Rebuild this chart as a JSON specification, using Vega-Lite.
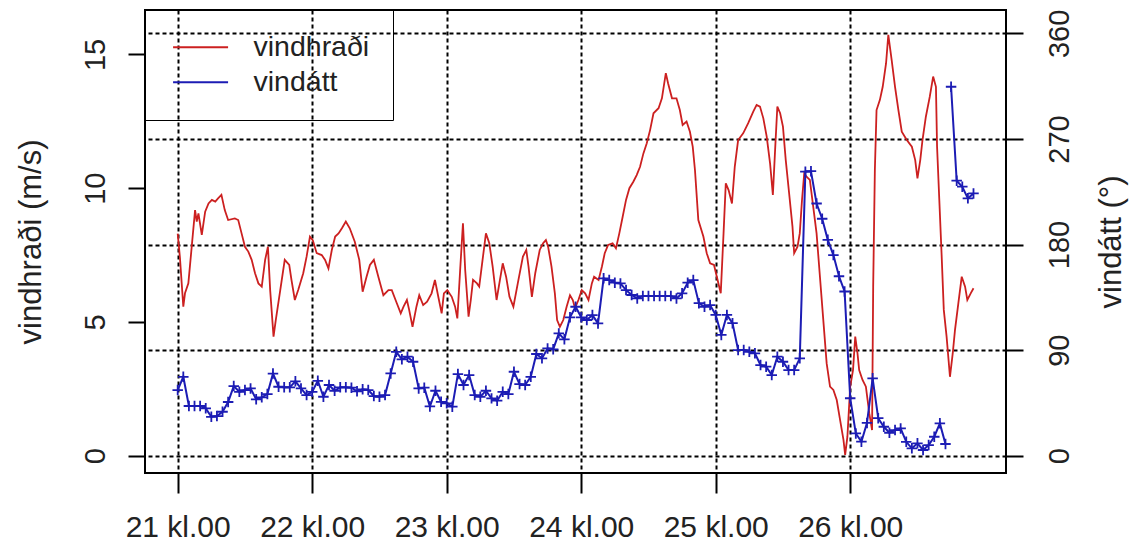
{
  "$schema": "https://vega.github.io/schema/vega-lite/v6.json",
  "width": 861,
  "height": 463,
  "autosize": {"type": "none"},
  "padding": {"left": 145, "top": 10, "right": 136, "bottom": 79},
  "background": "white",
  "config": {
    "view": {"stroke": "black", "strokeWidth": 2},
    "font": "Liberation Sans"
  },
  "datasets": {
    "vindhradi": [
      {"klst": 0, "vindhradi": 8.3}, {"klst": 0.4, "vindhradi": 7.4}, {"klst": 1.0, "vindhradi": 5.57}, {"klst": 1.3, "vindhradi": 6.07},
      {"klst": 1.9, "vindhradi": 6.44}, {"klst": 2.5, "vindhradi": 7.81}, {"klst": 3.1, "vindhradi": 9.18}, {"klst": 3.4, "vindhradi": 8.75},
      {"klst": 3.7, "vindhradi": 9.06}, {"klst": 4.3, "vindhradi": 8.25}, {"klst": 4.9, "vindhradi": 9.12}, {"klst": 5.5, "vindhradi": 9.43},
      {"klst": 6.1, "vindhradi": 9.56}, {"klst": 6.7, "vindhradi": 9.5}, {"klst": 7.2, "vindhradi": 9.62}, {"klst": 7.8, "vindhradi": 9.75},
      {"klst": 8.4, "vindhradi": 9.18}, {"klst": 9.0, "vindhradi": 8.81}, {"klst": 10.2, "vindhradi": 8.87}, {"klst": 10.8, "vindhradi": 8.81},
      {"klst": 11.4, "vindhradi": 8.31}, {"klst": 12.0, "vindhradi": 7.81}, {"klst": 12.6, "vindhradi": 7.63}, {"klst": 13.2, "vindhradi": 7.32},
      {"klst": 13.8, "vindhradi": 6.82}, {"klst": 14.4, "vindhradi": 6.44}, {"klst": 15.0, "vindhradi": 6.32}, {"klst": 15.6, "vindhradi": 7.32},
      {"klst": 16.1, "vindhradi": 7.81}, {"klst": 16.5, "vindhradi": 6.19}, {"klst": 17.1, "vindhradi": 4.45}, {"klst": 17.5, "vindhradi": 5.07},
      {"klst": 18.3, "vindhradi": 6.19}, {"klst": 19.1, "vindhradi": 7.32}, {"klst": 19.9, "vindhradi": 7.13}, {"klst": 20.3, "vindhradi": 6.57},
      {"klst": 20.9, "vindhradi": 5.82}, {"klst": 21.5, "vindhradi": 6.19}, {"klst": 22.4, "vindhradi": 6.82}, {"klst": 23.0, "vindhradi": 7.44},
      {"klst": 23.6, "vindhradi": 8.19}, {"klst": 24.1, "vindhradi": 8.06}, {"klst": 24.8, "vindhradi": 7.57}, {"klst": 25.7, "vindhradi": 7.5},
      {"klst": 26.3, "vindhradi": 7.32}, {"klst": 26.9, "vindhradi": 7.0}, {"klst": 27.5, "vindhradi": 7.69}, {"klst": 28.1, "vindhradi": 8.19},
      {"klst": 28.7, "vindhradi": 8.31}, {"klst": 29.3, "vindhradi": 8.5}, {"klst": 30.0, "vindhradi": 8.75}, {"klst": 30.7, "vindhradi": 8.5},
      {"klst": 31.6, "vindhradi": 8.0}, {"klst": 32.4, "vindhradi": 7.32}, {"klst": 33.0, "vindhradi": 6.13}, {"klst": 33.7, "vindhradi": 6.69},
      {"klst": 34.3, "vindhradi": 7.13}, {"klst": 35.0, "vindhradi": 7.32}, {"klst": 35.8, "vindhradi": 6.69}, {"klst": 36.7, "vindhradi": 6.0},
      {"klst": 37.6, "vindhradi": 6.19}, {"klst": 38.2, "vindhradi": 6.19}, {"klst": 39.1, "vindhradi": 5.7}, {"klst": 39.8, "vindhradi": 5.32},
      {"klst": 40.3, "vindhradi": 5.57}, {"klst": 40.9, "vindhradi": 5.82}, {"klst": 41.3, "vindhradi": 5.45}, {"klst": 41.9, "vindhradi": 4.82},
      {"klst": 42.6, "vindhradi": 5.57}, {"klst": 43.1, "vindhradi": 6.0}, {"klst": 43.8, "vindhradi": 5.63}, {"klst": 44.5, "vindhradi": 5.76},
      {"klst": 45.3, "vindhradi": 6.07}, {"klst": 45.9, "vindhradi": 6.57}, {"klst": 46.5, "vindhradi": 5.94}, {"klst": 47.1, "vindhradi": 5.32},
      {"klst": 47.5, "vindhradi": 6.07}, {"klst": 48.1, "vindhradi": 6.19}, {"klst": 48.9, "vindhradi": 5.94}, {"klst": 49.5, "vindhradi": 5.57},
      {"klst": 49.9, "vindhradi": 5.13}, {"klst": 50.4, "vindhradi": 6.94}, {"klst": 50.9, "vindhradi": 8.69}, {"klst": 51.3, "vindhradi": 6.94},
      {"klst": 51.9, "vindhradi": 5.2}, {"klst": 52.3, "vindhradi": 5.82}, {"klst": 52.7, "vindhradi": 6.57}, {"klst": 53.4, "vindhradi": 6.44},
      {"klst": 53.8, "vindhradi": 6.32}, {"klst": 54.4, "vindhradi": 7.32}, {"klst": 55.0, "vindhradi": 8.31}, {"klst": 55.6, "vindhradi": 7.94},
      {"klst": 56.2, "vindhradi": 7.07}, {"klst": 56.9, "vindhradi": 5.82}, {"klst": 57.5, "vindhradi": 6.57}, {"klst": 58.0, "vindhradi": 7.19},
      {"klst": 58.6, "vindhradi": 6.69}, {"klst": 59.2, "vindhradi": 5.94}, {"klst": 59.9, "vindhradi": 5.57}, {"klst": 60.8, "vindhradi": 6.57},
      {"klst": 61.6, "vindhradi": 7.44}, {"klst": 62.2, "vindhradi": 7.69}, {"klst": 62.6, "vindhradi": 7.07}, {"klst": 63.2, "vindhradi": 5.94},
      {"klst": 63.8, "vindhradi": 6.82}, {"klst": 64.6, "vindhradi": 7.69}, {"klst": 65.2, "vindhradi": 7.94}, {"klst": 65.7, "vindhradi": 8.06},
      {"klst": 66.1, "vindhradi": 7.81}, {"klst": 66.7, "vindhradi": 7.07}, {"klst": 67.3, "vindhradi": 6.07}, {"klst": 67.7, "vindhradi": 5.07},
      {"klst": 68.2, "vindhradi": 4.82}, {"klst": 68.8, "vindhradi": 5.07}, {"klst": 69.4, "vindhradi": 5.57}, {"klst": 70.0, "vindhradi": 6.0},
      {"klst": 70.5, "vindhradi": 5.82}, {"klst": 70.9, "vindhradi": 5.51}, {"klst": 71.5, "vindhradi": 5.82}, {"klst": 72.1, "vindhradi": 6.19},
      {"klst": 72.7, "vindhradi": 6.07}, {"klst": 73.3, "vindhradi": 5.82}, {"klst": 73.9, "vindhradi": 6.44}, {"klst": 74.3, "vindhradi": 6.69},
      {"klst": 75.1, "vindhradi": 6.57}, {"klst": 75.7, "vindhradi": 7.07}, {"klst": 76.2, "vindhradi": 7.57}, {"klst": 76.8, "vindhradi": 7.88},
      {"klst": 77.6, "vindhradi": 7.94}, {"klst": 78.2, "vindhradi": 7.75}, {"klst": 78.8, "vindhradi": 8.31}, {"klst": 79.4, "vindhradi": 8.93},
      {"klst": 80.0, "vindhradi": 9.56}, {"klst": 80.6, "vindhradi": 10.0}, {"klst": 81.3, "vindhradi": 10.24}, {"klst": 81.9, "vindhradi": 10.49},
      {"klst": 82.5, "vindhradi": 10.8}, {"klst": 83.1, "vindhradi": 11.3}, {"klst": 83.7, "vindhradi": 11.68}, {"klst": 84.3, "vindhradi": 12.18},
      {"klst": 84.9, "vindhradi": 12.8}, {"klst": 85.8, "vindhradi": 12.99}, {"klst": 86.4, "vindhradi": 13.36}, {"klst": 87.1, "vindhradi": 14.3},
      {"klst": 87.5, "vindhradi": 13.92}, {"klst": 88.2, "vindhradi": 13.36}, {"klst": 89.0, "vindhradi": 13.36}, {"klst": 89.6, "vindhradi": 12.92},
      {"klst": 90.1, "vindhradi": 12.36}, {"klst": 90.8, "vindhradi": 12.49}, {"klst": 91.4, "vindhradi": 12.11}, {"klst": 91.9, "vindhradi": 11.55},
      {"klst": 92.3, "vindhradi": 10.68}, {"klst": 92.9, "vindhradi": 8.81}, {"klst": 93.8, "vindhradi": 8.19}, {"klst": 94.4, "vindhradi": 7.57},
      {"klst": 95.0, "vindhradi": 7.19}, {"klst": 95.7, "vindhradi": 7.13}, {"klst": 96.2, "vindhradi": 6.69}, {"klst": 96.9, "vindhradi": 6.07},
      {"klst": 97.4, "vindhradi": 8.31}, {"klst": 97.8, "vindhradi": 10.18}, {"klst": 98.3, "vindhradi": 9.93}, {"klst": 98.9, "vindhradi": 9.43},
      {"klst": 99.4, "vindhradi": 10.8}, {"klst": 100.0, "vindhradi": 11.8}, {"klst": 100.9, "vindhradi": 12.05}, {"klst": 101.8, "vindhradi": 12.43},
      {"klst": 102.7, "vindhradi": 12.86}, {"klst": 103.3, "vindhradi": 13.11}, {"klst": 103.9, "vindhradi": 13.05}, {"klst": 104.5, "vindhradi": 12.61},
      {"klst": 105.1, "vindhradi": 11.93}, {"klst": 105.7, "vindhradi": 10.93}, {"klst": 106.2, "vindhradi": 9.75}, {"klst": 106.6, "vindhradi": 11.43},
      {"klst": 107.0, "vindhradi": 13.05}, {"klst": 107.5, "vindhradi": 12.8}, {"klst": 108.0, "vindhradi": 12.3}, {"klst": 108.5, "vindhradi": 11.05},
      {"klst": 109.1, "vindhradi": 9.81}, {"klst": 109.7, "vindhradi": 8.56}, {"klst": 110.0, "vindhradi": 7.57}, {"klst": 110.6, "vindhradi": 7.81},
      {"klst": 111.0, "vindhradi": 8.31}, {"klst": 111.4, "vindhradi": 9.56}, {"klst": 111.8, "vindhradi": 10.56}, {"klst": 112.2, "vindhradi": 10.43},
      {"klst": 112.8, "vindhradi": 10.31}, {"klst": 113.4, "vindhradi": 9.31}, {"klst": 114.0, "vindhradi": 8.31}, {"klst": 114.6, "vindhradi": 6.69},
      {"klst": 115.2, "vindhradi": 5.07}, {"klst": 115.8, "vindhradi": 3.45}, {"klst": 116.4, "vindhradi": 2.58}, {"klst": 117.0, "vindhradi": 2.46},
      {"klst": 117.6, "vindhradi": 2.08}, {"klst": 118.2, "vindhradi": 1.33}, {"klst": 118.8, "vindhradi": 0.59}, {"klst": 119.1, "vindhradi": 0.03},
      {"klst": 119.5, "vindhradi": 0.71}, {"klst": 120.0, "vindhradi": 2.58}, {"klst": 120.5, "vindhradi": 3.2}, {"klst": 120.9, "vindhradi": 4.45},
      {"klst": 121.3, "vindhradi": 3.83}, {"klst": 121.6, "vindhradi": 3.2}, {"klst": 122.2, "vindhradi": 2.83}, {"klst": 122.8, "vindhradi": 2.58},
      {"klst": 123.4, "vindhradi": 1.59}, {"klst": 123.9, "vindhradi": 0.96}, {"klst": 124.1, "vindhradi": 6.32}, {"klst": 124.4, "vindhradi": 10.68},
      {"klst": 124.7, "vindhradi": 12.92}, {"klst": 125.3, "vindhradi": 13.3}, {"klst": 125.8, "vindhradi": 13.79}, {"klst": 126.4, "vindhradi": 14.67},
      {"klst": 126.8, "vindhradi": 15.73}, {"klst": 127.4, "vindhradi": 14.79}, {"klst": 128.0, "vindhradi": 13.79}, {"klst": 128.6, "vindhradi": 12.92},
      {"klst": 129.2, "vindhradi": 12.11}, {"klst": 130.1, "vindhradi": 11.8}, {"klst": 131.0, "vindhradi": 11.55}, {"klst": 131.6, "vindhradi": 11.05},
      {"klst": 132.0, "vindhradi": 10.37}, {"klst": 132.5, "vindhradi": 11.05}, {"klst": 132.9, "vindhradi": 11.8}, {"klst": 133.5, "vindhradi": 12.67},
      {"klst": 134.2, "vindhradi": 13.42}, {"klst": 134.8, "vindhradi": 14.17}, {"klst": 135.3, "vindhradi": 13.79}, {"klst": 135.5, "vindhradi": 11.55},
      {"klst": 135.9, "vindhradi": 9.56}, {"klst": 136.3, "vindhradi": 7.57}, {"klst": 136.7, "vindhradi": 5.45}, {"klst": 137.2, "vindhradi": 4.45},
      {"klst": 137.8, "vindhradi": 2.95}, {"klst": 138.3, "vindhradi": 3.83}, {"klst": 138.7, "vindhradi": 4.7}, {"klst": 139.3, "vindhradi": 5.7},
      {"klst": 139.9, "vindhradi": 6.69}, {"klst": 140.5, "vindhradi": 6.32}, {"klst": 140.9, "vindhradi": 5.82}, {"klst": 141.5, "vindhradi": 6.07},
      {"klst": 142.0, "vindhradi": 6.26}
    ],
    "vindatt": [
      {"klst": 0, "vindatt": 56.0, "hluti": "a"}, {"klst": 1, "vindatt": 67.3, "hluti": "a"}, {"klst": 2, "vindatt": 42.4, "hluti": "a"}, {"klst": 3, "vindatt": 42.4, "hluti": "a"},
      {"klst": 4, "vindatt": 42.4, "hluti": "a"}, {"klst": 5, "vindatt": 40.4, "hluti": "a"}, {"klst": 6, "vindatt": 33.2, "hluti": "a"}, {"klst": 7, "vindatt": 33.8, "hluti": "a"},
      {"klst": 8, "vindatt": 37.5, "hluti": "a"}, {"klst": 9, "vindatt": 45.8, "hluti": "a"}, {"klst": 10, "vindatt": 59.4, "hluti": "a"}, {"klst": 11, "vindatt": 54.5, "hluti": "a"},
      {"klst": 12, "vindatt": 56.0, "hluti": "a"}, {"klst": 13, "vindatt": 57.4, "hluti": "a"}, {"klst": 14, "vindatt": 48.1, "hluti": "a"}, {"klst": 15, "vindatt": 49.8, "hluti": "a"},
      {"klst": 16, "vindatt": 52.6, "hluti": "a"}, {"klst": 17, "vindatt": 70.0, "hluti": "a"}, {"klst": 18, "vindatt": 58.8, "hluti": "a"}, {"klst": 19, "vindatt": 58.3, "hluti": "a"},
      {"klst": 20, "vindatt": 58.3, "hluti": "a"}, {"klst": 21, "vindatt": 63.4, "hluti": "a"}, {"klst": 22, "vindatt": 57.4, "hluti": "a"}, {"klst": 23, "vindatt": 51.7, "hluti": "a"},
      {"klst": 24, "vindatt": 54.5, "hluti": "a"}, {"klst": 25, "vindatt": 63.9, "hluti": "a"}, {"klst": 26, "vindatt": 50.3, "hluti": "a"}, {"klst": 27, "vindatt": 60.3, "hluti": "a"},
      {"klst": 28, "vindatt": 55.4, "hluti": "a"}, {"klst": 29, "vindatt": 58.3, "hluti": "a"}, {"klst": 30, "vindatt": 58.3, "hluti": "a"}, {"klst": 31, "vindatt": 58.0, "hluti": "a"},
      {"klst": 32, "vindatt": 54.9, "hluti": "a"}, {"klst": 33, "vindatt": 56.6, "hluti": "a"}, {"klst": 34, "vindatt": 56.0, "hluti": "a"}, {"klst": 35, "vindatt": 50.9, "hluti": "a"},
      {"klst": 36, "vindatt": 50.3, "hluti": "a"}, {"klst": 37, "vindatt": 51.7, "hluti": "a"}, {"klst": 38, "vindatt": 70.2, "hluti": "a"}, {"klst": 39, "vindatt": 88.6, "hluti": "a"},
      {"klst": 40, "vindatt": 82.2, "hluti": "a"}, {"klst": 41, "vindatt": 84.4, "hluti": "a"}, {"klst": 42, "vindatt": 80.1, "hluti": "a"}, {"klst": 43, "vindatt": 57.4, "hluti": "a"},
      {"klst": 44, "vindatt": 58.0, "hluti": "a"}, {"klst": 45, "vindatt": 42.0, "hluti": "a"}, {"klst": 46, "vindatt": 55.4, "hluti": "a"}, {"klst": 47, "vindatt": 46.0, "hluti": "a"},
      {"klst": 48, "vindatt": 44.7, "hluti": "a"}, {"klst": 49, "vindatt": 41.8, "hluti": "a"}, {"klst": 50, "vindatt": 69.6, "hluti": "a"}, {"klst": 51, "vindatt": 60.3, "hluti": "a"},
      {"klst": 52, "vindatt": 68.8, "hluti": "a"}, {"klst": 53, "vindatt": 51.7, "hluti": "a"}, {"klst": 54, "vindatt": 50.3, "hluti": "a"}, {"klst": 55, "vindatt": 55.4, "hluti": "a"},
      {"klst": 56, "vindatt": 48.9, "hluti": "a"}, {"klst": 57, "vindatt": 46.9, "hluti": "a"}, {"klst": 58, "vindatt": 54.5, "hluti": "a"}, {"klst": 59, "vindatt": 52.6, "hluti": "a"},
      {"klst": 60, "vindatt": 71.6, "hluti": "a"}, {"klst": 61, "vindatt": 61.1, "hluti": "a"}, {"klst": 62, "vindatt": 60.3, "hluti": "a"}, {"klst": 63, "vindatt": 67.3, "hluti": "a"},
      {"klst": 64, "vindatt": 86.7, "hluti": "a"}, {"klst": 65, "vindatt": 83.0, "hluti": "a"}, {"klst": 66, "vindatt": 91.5, "hluti": "a"}, {"klst": 67, "vindatt": 90.7, "hluti": "a"},
      {"klst": 68, "vindatt": 104.3, "hluti": "a"}, {"klst": 69, "vindatt": 99.2, "hluti": "a"}, {"klst": 70, "vindatt": 118.0, "hluti": "a"}, {"klst": 71, "vindatt": 127.0, "hluti": "a"},
      {"klst": 72, "vindatt": 118.0, "hluti": "a"}, {"klst": 73, "vindatt": 115.7, "hluti": "a"}, {"klst": 74, "vindatt": 119.9, "hluti": "a"}, {"klst": 75, "vindatt": 112.8, "hluti": "a"},
      {"klst": 76, "vindatt": 151.2, "hluti": "a"}, {"klst": 77, "vindatt": 149.7, "hluti": "a"}, {"klst": 78, "vindatt": 147.5, "hluti": "a"}, {"klst": 79, "vindatt": 146.9, "hluti": "a"},
      {"klst": 80, "vindatt": 141.2, "hluti": "a"}, {"klst": 81, "vindatt": 137.0, "hluti": "a"}, {"klst": 82, "vindatt": 134.1, "hluti": "a"}, {"klst": 83, "vindatt": 136.1, "hluti": "a"},
      {"klst": 84, "vindatt": 136.1, "hluti": "a"}, {"klst": 85, "vindatt": 136.1, "hluti": "a"}, {"klst": 86, "vindatt": 136.1, "hluti": "a"}, {"klst": 87, "vindatt": 136.1, "hluti": "a"},
      {"klst": 88, "vindatt": 136.1, "hluti": "a"}, {"klst": 89, "vindatt": 134.1, "hluti": "a"}, {"klst": 90, "vindatt": 138.4, "hluti": "a"}, {"klst": 91, "vindatt": 147.5, "hluti": "a"},
      {"klst": 92, "vindatt": 149.7, "hluti": "a"}, {"klst": 93, "vindatt": 130.0, "hluti": "a"}, {"klst": 94, "vindatt": 127.0, "hluti": "a"}, {"klst": 95, "vindatt": 128.4, "hluti": "a"},
      {"klst": 96, "vindatt": 120.0, "hluti": "a"}, {"klst": 97, "vindatt": 103.0, "hluti": "a"}, {"klst": 98, "vindatt": 120.0, "hluti": "a"}, {"klst": 99, "vindatt": 113.0, "hluti": "a"},
      {"klst": 100, "vindatt": 90.1, "hluti": "a"}, {"klst": 101, "vindatt": 90.1, "hluti": "a"}, {"klst": 102, "vindatt": 88.6, "hluti": "a"}, {"klst": 103, "vindatt": 87.3, "hluti": "a"},
      {"klst": 104, "vindatt": 77.3, "hluti": "a"}, {"klst": 105, "vindatt": 75.9, "hluti": "a"}, {"klst": 106, "vindatt": 68.8, "hluti": "a"}, {"klst": 107, "vindatt": 84.4, "hluti": "a"},
      {"klst": 108, "vindatt": 80.1, "hluti": "a"}, {"klst": 109, "vindatt": 73.0, "hluti": "a"}, {"klst": 110, "vindatt": 73.0, "hluti": "a"}, {"klst": 111, "vindatt": 83.0, "hluti": "a"},
      {"klst": 112, "vindatt": 242.1, "hluti": "a"}, {"klst": 113, "vindatt": 242.5, "hluti": "a"}, {"klst": 114, "vindatt": 215.0, "hluti": "a"}, {"klst": 115, "vindatt": 202.0, "hluti": "a"},
      {"klst": 116, "vindatt": 184.0, "hluti": "a"}, {"klst": 117, "vindatt": 171.0, "hluti": "a"}, {"klst": 118, "vindatt": 153.0, "hluti": "a"}, {"klst": 119, "vindatt": 140.0, "hluti": "a"},
      {"klst": 120, "vindatt": 49.0, "hluti": "a"}, {"klst": 121, "vindatt": 19.0, "hluti": "a"}, {"klst": 122, "vindatt": 12.0, "hluti": "a"}, {"klst": 123, "vindatt": 28.0, "hluti": "a"},
      {"klst": 124, "vindatt": 66.0, "hluti": "a"}, {"klst": 125, "vindatt": 32.0, "hluti": "a"}, {"klst": 126, "vindatt": 24.7, "hluti": "a"}, {"klst": 127, "vindatt": 19.6, "hluti": "a"},
      {"klst": 128, "vindatt": 21.9, "hluti": "a"}, {"klst": 129, "vindatt": 23.3, "hluti": "a"}, {"klst": 130, "vindatt": 11.9, "hluti": "a"}, {"klst": 131, "vindatt": 6.3, "hluti": "a"},
      {"klst": 132, "vindatt": 10.6, "hluti": "a"}, {"klst": 133, "vindatt": 4.9, "hluti": "a"}, {"klst": 134, "vindatt": 9.1, "hluti": "a"}, {"klst": 135, "vindatt": 16.2, "hluti": "a"},
      {"klst": 136, "vindatt": 27.6, "hluti": "a"}, {"klst": 137, "vindatt": 10.0, "hluti": "a"},
      {"klst": 138, "vindatt": 314.5, "hluti": "b"}, {"klst": 139, "vindatt": 234.4, "hluti": "b"}, {"klst": 140, "vindatt": 229.3, "hluti": "b"}, {"klst": 141, "vindatt": 219.4, "hluti": "b"},
      {"klst": 142, "vindatt": 223.6, "hluti": "b"}
    ]
  },
  "layer": [
    {
      "data": {"name": "vindhradi"},
      "mark": {"type": "line", "strokeWidth": 1.8, "interpolate": "linear"},
      "encoding": {
        "x": {
          "field": "klst", "type": "quantitative",
          "scale": {"domain": [-5.835, 147.8], "nice": false, "zero": false},
          "axis": {
            "title": null, "values": [0, 24, 48, 72, 96, 120],
            "labelExpr": "(21 + datum.value / 24) + ' kl.00'",
            "domain": false, "tickSize": 20, "tickWidth": 2, "tickColor": "black",
            "labelFontSize": 30, "labelFont": "Liberation Sans", "labelColor": "#222", "labelPadding": 19,
            "labelFlush": false, "labelOverlap": false,
            "grid": true, "gridColor": "black", "gridDash": [4, 3], "gridWidth": 2, "gridOpacity": 1
          }
        },
        "y": {
          "field": "vindhradi", "type": "quantitative",
          "scale": {"domain": [-0.647, 16.66], "nice": false, "zero": false},
          "axis": {
            "orient": "left", "title": "vindhraði (m/s)", "values": [0, 5, 10, 15],
            "domain": false, "tickSize": 17, "tickWidth": 2, "tickColor": "black", "grid": false,
            "labelAngle": -90, "labelAlign": "center", "labelBaseline": "bottom",
            "labelFontSize": 29, "labelFont": "Liberation Sans", "labelColor": "#222", "labelPadding": 18,
            "labelFlush": false, "labelOverlap": false,
            "titleFontSize": 31, "titleFont": "Liberation Sans", "titleFontWeight": "normal", "titleColor": "#222",
            "titlePadding": 34
          }
        },
        "color": {
          "datum": "vindhraði", "type": "nominal",
          "scale": {"domain": ["vindhraði", "vindátt"], "range": ["#cc2020", "#1c1cb4"]},
          "legend": {
            "title": null, "orient": "none", "legendX": 0, "legendY": 0,
            "strokeColor": "black", "padding": 23,
            "symbolType": "M-1,0H5", "symbolSize": 336, "symbolStrokeWidth": 2, "symbolOpacity": 1,
            "labelFontSize": 28.5, "labelFont": "Liberation Sans", "labelColor": "#222",
            "labelOffset": 57, "rowPadding": 6
          }
        }
      }
    },
    {
      "data": {"name": "vindatt"},
      "encoding": {
        "x": {"field": "klst", "type": "quantitative"},
        "y": {
          "field": "vindatt", "type": "quantitative",
          "scale": {"domain": [-14.7, 379.9], "nice": false, "zero": false},
          "axis": {
            "orient": "right", "title": "vindátt (°)", "values": [0, 90, 180, 270, 360],
            "domain": false, "tickSize": 17, "tickWidth": 2, "tickColor": "black",
            "grid": true, "gridColor": "black", "gridDash": [4, 3], "gridWidth": 2, "gridOpacity": 1,
            "labelAngle": -90, "labelAlign": "center", "labelBaseline": "top",
            "labelFontSize": 29, "labelFont": "Liberation Sans", "labelColor": "#222", "labelPadding": 22,
            "labelFlush": false, "labelOverlap": false,
            "titleAngle": -90, "titleBaseline": "top",
            "titleFontSize": 31, "titleFont": "Liberation Sans", "titleFontWeight": "normal", "titleColor": "#222",
            "titlePadding": 22
          }
        },
        "color": {"datum": "vindátt", "type": "nominal"},
        "detail": {"field": "hluti", "type": "nominal"}
      },
      "layer": [
        {"mark": {"type": "line", "strokeWidth": 2, "interpolate": "linear"}},
        {"mark": {"type": "point", "shape": "M-1,0H1M0,-1V1", "size": 110, "filled": false, "strokeWidth": 1.8, "opacity": 1}}
      ]
    }
  ],
  "resolve": {"scale": {"y": "independent"}, "axis": {"y": "independent"}}
}
